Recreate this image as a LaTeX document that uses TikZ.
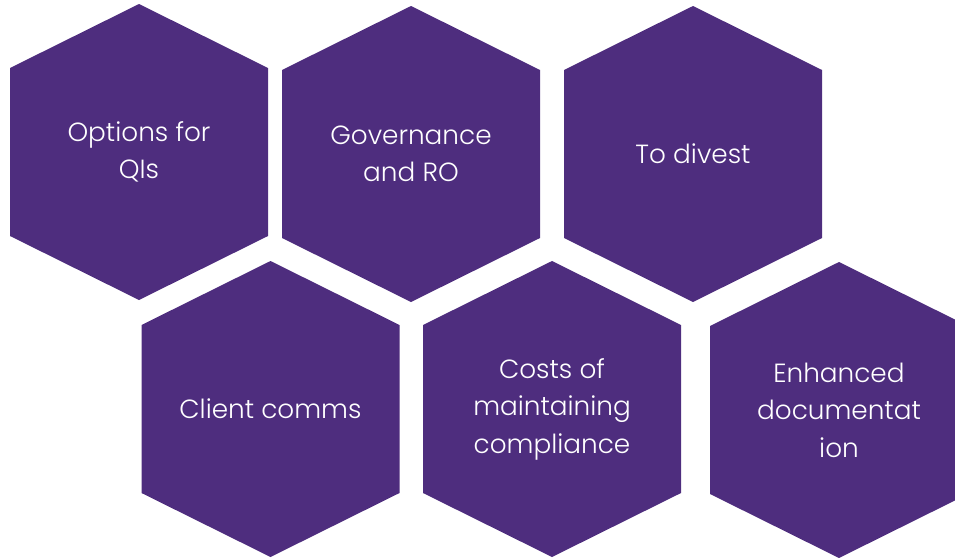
\documentclass[tikz,border=0pt]{standalone}
\usepackage{fontspec}
\setmainfont{Poppins}[UprightFont=* Light]
\definecolor{hexpurple}{HTML}{4E2D7E}
\begin{document}
\begin{tikzpicture}[x=1pt,y=-1pt,
  hexfill/.style={fill=hexpurple},
  lbl/.style={text=white, align=center, inner sep=0pt, font=\fontsize{26.3}{37.5}\selectfont}]
\useasboundingbox (0,0) rectangle (955,557);
\begin{scope}
\clip (0,0) rectangle (955,557);
\foreach \n/\cx/\cy in {a/139/152, b/411/154, c/693/154, d/270.5/409, e/552/409, f/839/410} {
  \fill[hexfill] (\cx,\cy) ++(0,-148) -- ++(129,64) -- ++(0,168) -- ++(-129,64) -- ++(-129,-64) -- ++(0,-168) -- cycle;
  \coordinate (\n) at (\cx,\cy);
}
\end{scope}
\node[lbl] (ta) at (a) {Options for\\QIs};
\node[lbl] (tb) at (b) {Governance\\and RO};
\node[lbl] (tc) at (c) {To divest};
\node[lbl] (td) at (d) {Client comms};
\node[lbl] (te) at (e) {Costs of\\maintaining\\compliance};
\node[lbl] (tf) at (f) {Enhanced\\documentat\\ion};
\end{tikzpicture}
\end{document}
